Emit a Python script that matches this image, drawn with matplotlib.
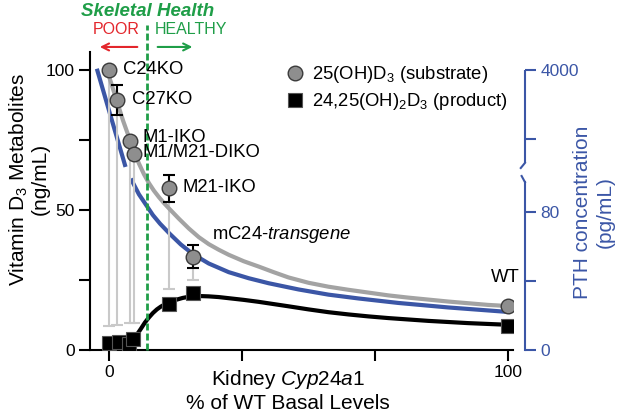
import numpy as np
import matplotlib
matplotlib.use('Agg')
import matplotlib.pyplot as plt
from matplotlib.lines import Line2D
from matplotlib.transforms import blended_transform_factory

plt.rcParams['font.family'] = ['Liberation Sans', 'DejaVu Sans']
plt.rcParams['mathtext.fontset'] = 'custom'
plt.rcParams['mathtext.rm'] = 'Liberation Sans'
plt.rcParams['mathtext.it'] = 'Liberation Sans:italic'
plt.rcParams['mathtext.bf'] = 'Liberation Sans:bold'

# ---------------- data ----------------
genotypes = ['C24KO', 'C27KO', 'M1-IKO', 'M1/M21-DIKO', 'M21-IKO',
             'mC24-$\\it{transgene}$', 'WT']
cyp_pct = [0, 2.0, 5.2, 6.2, 15.0, 21.0, 100]
substrate = [100, 89.3, 74.7, 70.1, 57.7, 33.1, 15.7]
substrate_err_hi = [0, 5.3, 0, 0, 4.8, 4.4, 0]
substrate_err_lo = [0, 5.4, 0, 0, 4.7, 3.8, 0]
substrate_range_low = [8.7, 8.9, 9.6, 9.6, 21.7, 25.0, 15.7]

product_x = [0, 2.4, 5.0, 6.1, 15.0, 21.0, 100]
product = [2.6, 2.9, 2.1, 3.9, 16.4, 20.5, 8.7]

# fitted trend curves
sub_curve_x = [-0.5, 0.5, 1.5, 2.5, 3.5, 4.5, 5.5, 6.5, 7.5, 8.75, 10,
               11.25, 12.5, 13.75, 15, 17.5, 20, 22.5, 25, 27.5, 30, 33.75,
               37.5, 41.25, 45, 50, 55, 60, 65, 70, 75, 80, 85, 90, 95, 100]
sub_curve_y = [100, 95.5, 91, 86.5, 82, 78, 74, 70.2, 66.6, 62.8, 59.6,
               56.9, 54.6, 52.5, 50.6, 46.9, 43.4, 40.3, 37.8, 35.8, 34.0,
               31.7, 29.8, 27.8, 25.9, 24.0, 22.6, 21.5, 20.5, 19.5, 18.7,
               18.0, 17.3, 16.7, 16.1, 15.7]

prod_curve_x = [6.2, 7, 8, 9, 10, 11, 12, 13, 14, 15.5, 17, 18.5, 20, 21.5,
                23, 25, 27.5, 30, 33.75, 37.5, 41.25, 45, 50, 55, 60, 65,
                70, 75, 80, 85, 90, 95, 100]
prod_curve_y = [3.9, 5.5, 7.6, 9.8, 11.6, 13.2, 14.5, 15.5, 16.3, 17.3,
                18.0, 18.6, 19.0, 19.2, 19.25, 19.15, 18.9, 18.5, 17.9, 17.2,
                16.4, 15.6, 14.5, 13.5, 12.7, 12.0, 11.4, 10.9, 10.4, 10.0,
                9.6, 9.3, 9.0]

pth_upper_x = [-2.9, 0, 2.0, 4.0]
pth_upper = [3990, 2840, 2050, 1260]
pth_lower_x = [5.7, 7.5, 9.4, 11, 12.8, 15.3, 18, 21, 25, 30, 35, 40, 47.5,
               55, 62.5, 72.5, 85, 100]
pth_lower = [98, 90, 83.5, 78, 73, 67, 61, 55.5, 50, 45, 41.5, 38.6, 35,
             32, 29.8, 27.2, 24.6, 22]

left_ticks = [0, 25, 50, 75, 100]
left_ticklabels = ['0', '', '50', '', '100']
x_ticks = [0, 100 / 3, 200 / 3, 100]
x_ticklabels = ['0', '', '', '100']
right_ticks = [0, 40, 80, 2000, 4000]
right_ticklabels = ['0', '', '80', '', '4000']

# ---------------- styles ----------------
BLUE = '#3b56a6'
GREEN = '#1f9e48'
RED = '#e3262c'
GREY_FILL = '#8e8e8e'
GREY_LINE = '#a3a3a3'
LIGHT = '#c9c9c9'

W, H = 622, 413
fig = plt.figure(figsize=(W / 100, H / 100), dpi=100)
ax = fig.add_axes([90 / W, (H - 350) / H, 423 / W, 298 / H])

ax.set_xlim(-4.76, 101.25)
ax.set_ylim(0, 106.4)

for s in ['top', 'right']:
    ax.spines[s].set_visible(False)
for s in ['left', 'bottom']:
    ax.spines[s].set_linewidth(1.5)

ax.set_yticks(left_ticks)
ax.set_yticklabels(left_ticklabels)
ax.set_xticks(x_ticks)
ax.set_xticklabels(x_ticklabels)
ax.tick_params(direction='out', length=8, width=1.5, labelsize=12.5, pad=3)

# light grey long lower bars
lo_long = [s - r for s, r in zip(substrate, substrate_range_low)]
ax.errorbar(cyp_pct, substrate, yerr=[lo_long, [0] * len(substrate)],
            fmt='none', ecolor=LIGHT, elinewidth=1.5, capsize=4,
            capthick=1.5, zorder=1)

# curves
ax.plot(sub_curve_x, sub_curve_y, color=GREY_LINE, lw=3, zorder=2,
        solid_capstyle='round', solid_joinstyle='round')
ax.plot(prod_curve_x, prod_curve_y, color='black', lw=3, zorder=2,
        solid_capstyle='round', solid_joinstyle='round')

# skeletal health divider
ax.axvline(9.4, ymin=0, ymax=1.09, color=GREEN, lw=2.0,
           ls=(0, (2.5, 1.1)), clip_on=False, zorder=2.6)

# PTH axis with broken function scale
def fwd(v):
    v = np.asarray(v, dtype=float)
    return np.where(v <= 100, 1.73 * v,
                    np.where(v < 1200, 173 + (v - 100) * (10 / 1100),
                             183 + (v - 1200) * 0.0345))

def inv(p):
    p = np.asarray(p, dtype=float)
    return np.where(p <= 173, p / 1.73,
                    np.where(p < 183, 100 + (p - 173) * 110,
                             1200 + (p - 183) / 0.0345))

ax2 = ax.twinx()
ax2.set_yscale('function', functions=(fwd, inv))
ax2.set_ylim(0, float(inv(298)))
for s in ['top', 'left', 'bottom']:
    ax2.spines[s].set_visible(False)
XR = 435 / 423
ax2.spines['right'].set_position(('axes', XR))
ax2.spines['right'].set_bounds(0, 97)
ax2.spines['right'].set_color(BLUE)
ax2.spines['right'].set_linewidth(1.5)
ax2.set_yticks(right_ticks)
ax2.set_yticklabels(right_ticklabels)
ax2.yaxis.set_minor_locator(matplotlib.ticker.NullLocator())
ax2.tick_params(axis='y', colors=BLUE, direction='out', length=8, width=1.5,
                labelsize=12.5, pad=3)
bt = blended_transform_factory(ax2.transAxes, ax2.transData)
ax2.plot([XR, XR], [1320, 4000], transform=bt, color=BLUE, lw=1.5,
         clip_on=False, solid_capstyle='butt')
ax2.plot([XR, XR - 0.008], [97, 210], transform=bt, color=BLUE, lw=1.5,
         clip_on=False)
ax2.plot([XR, XR - 0.01], [1320, 1090], transform=bt, color=BLUE, lw=1.5,
         clip_on=False)

ax2.plot(pth_upper_x, pth_upper, color=BLUE, lw=3, zorder=2)
ax2.plot(pth_lower_x, pth_lower, color=BLUE, lw=3, zorder=2,
         solid_joinstyle='round')

# make main axes draw on top of ax2 for markers
ax.set_zorder(ax2.get_zorder() + 1)
ax.patch.set_visible(False)

# black error bars
ax.errorbar(cyp_pct, substrate, yerr=[substrate_err_lo, substrate_err_hi],
            fmt='none', ecolor='black', elinewidth=1.5, capsize=4,
            capthick=1.5, zorder=3)

# markers
ax.plot(product_x, product, ls='none', marker='s', ms=10, mfc='black',
        mec='#555555', mew=0.8, zorder=4)
ax.plot(cyp_pct, substrate, ls='none', marker='o', ms=10.5, mfc=GREY_FILL,
        mec='#3a3a3a', mew=1.0, zorder=5)

# genotype labels
lab_pos = [(3.5, 100, 'left'), (5.8, 89.3, 'left'), (8.5, 76, 'left'),
           (8.3, 70.4, 'left'), (18.3, 57.9, 'left'), (25.8, 41.1, 'left'),
           (103, 26, 'right')]
for name, (lx, ly, ha) in zip(genotypes, lab_pos):
    ax.text(lx, ly, name, ha=ha, va='center', fontsize=13.3, zorder=6)

# skeletal health annotations
ax.text(9.8, 121, 'Skeletal Health', ha='center', va='center', fontsize=13.5,
        fontweight='bold', fontstyle='italic', color=GREEN, clip_on=False)
ax.text(1.75, 114.3, 'POOR', ha='center', va='center', fontsize=11.5,
        color=RED, clip_on=False)
ax.text(20.6, 114.3, 'HEALTHY', ha='center', va='center', fontsize=11.5,
        color=GREEN, clip_on=False)
ax.annotate('', xy=(-3.0, 108.2), xytext=(7.8, 108.2),
            arrowprops=dict(arrowstyle='->,head_length=0.5,head_width=0.25',
                            color=RED, lw=1.5), annotation_clip=False)
ax.annotate('', xy=(21.6, 108.2), xytext=(11.5, 108.2),
            arrowprops=dict(arrowstyle='->,head_length=0.5,head_width=0.25',
                            color=GREEN, lw=1.5), annotation_clip=False)

# legend
handles = [Line2D([], [], ls='none', marker='o', ms=10.5, mfc=GREY_FILL,
                  mec='#3a3a3a', mew=1.0),
           Line2D([], [], ls='none', marker='s', ms=10, mfc='black',
                  mec='#555555', mew=0.8)]
labels = ['25(OH)D$_3$ (substrate)', '24,25(OH)$_2$D$_3$ (product)']
ax.legend(handles, labels, loc='upper left',
          bbox_to_anchor=(286 / W, 1 - 64 / H), bbox_transform=fig.transFigure,
          frameon=False, fontsize=13.3, handlelength=1.0, handletextpad=0.4,
          borderpad=0, borderaxespad=0, labelspacing=0.35)

# axis labels
fig.text(288 / W, 1 - 390.5 / H,
         'Kidney $\\it{Cyp24a1}$\n% of WT Basal Levels', ha='center',
         va='center', fontsize=15, linespacing=1.15)
fig.text(28.5 / W, 1 - 179 / H, 'Vitamin D$_3$ Metabolites\n(ng/mL)',
         ha='center', va='center', rotation=90, fontsize=15,
         linespacing=1.05)
fig.text(594 / W, 1 - 212 / H, 'PTH concentration\n(pg/mL)', ha='center',
         va='center', rotation=90, fontsize=15, color=BLUE, linespacing=1.25)

fig.savefig('out.png', dpi=100)
